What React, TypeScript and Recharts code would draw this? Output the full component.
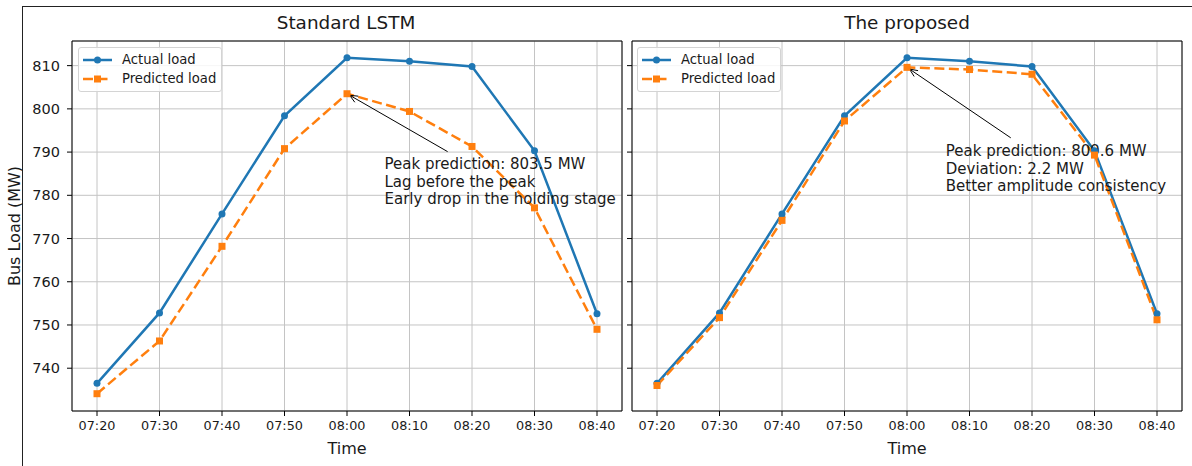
import React from "react";
import {
  LineChart,
  Line,
  XAxis,
  YAxis,
  CartesianGrid,
  ReferenceLine,
  ReferenceDot,
  Legend,
} from "recharts";

const times = ["07:20", "07:30", "07:40", "07:50", "08:00", "08:10", "08:20", "08:30", "08:40"];
const actualLoad = [736.5, 752.8, 775.7, 798.4, 811.8, 811.0, 809.8, 790.3, 752.6];
const lstmPredicted = [734.1, 746.3, 768.2, 790.8, 803.5, 799.4, 791.3, 777.1, 749.0];
const proposedPredicted = [736.0, 751.7, 774.2, 797.2, 809.6, 809.1, 808.0, 789.3, 751.2];
const yTicks = [740, 750, 760, 770, 780, 790, 800, 810];

const lstmNotes = ["Peak prediction: 803.5 MW", "Lag before the peak", "Early drop in the holding stage"];
const proposedNotes = ["Peak prediction: 809.6 MW", "Deviation: 2.2 MW", "Better amplitude consistency"];

const BLUE = "#1f77b4";
const ORANGE = "#ff7f0e";
const FONT = "'DejaVu Sans', sans-serif";
const Y_DOMAIN: [number, number] = [730.1, 815.7];
const X_DOMAIN: [number, number] = [-0.4, 8.4];

const SquareDot = (props: any) => {
  const { cx, cy, index } = props;
  if (cx == null || cy == null) return <g key={index} />;
  return <rect key={index} x={cx - 3.5} y={cy - 3.5} width={7} height={7} fill={ORANGE} />;
};

const Arrow = (props: any) => {
  const { x1, y1, x2, y2 } = props;
  const dx = x2 - x1;
  const dy = y2 - y1;
  const len = Math.sqrt(dx * dx + dy * dy) || 1;
  const ux = dx / len;
  const uy = dy / len;
  const ex = x2 - ux * 3;
  const ey = y2 - uy * 3;
  const hl = 8;
  const hw = 3.5;
  const bx = ex - ux * hl;
  const by = ey - uy * hl;
  return (
    <g>
      <line x1={x1} y1={y1} x2={ex} y2={ey} stroke="#000" strokeWidth={1} />
      <path
        d={`M${bx - uy * hw},${by + ux * hw} L${ex},${ey} L${bx + uy * hw},${by - ux * hw}`}
        fill="none"
        stroke="#000"
        strokeWidth={1}
      />
    </g>
  );
};

const noteShape = (lines: string[]) => (props: any) => {
  const { cx, cy } = props;
  return (
    <text x={cx} y={cy} fontSize={15} fill="#1a1a1a" fontFamily={FONT}>
      {lines.map((l, i) => (
        <tspan key={i} x={cx} dy={i === 0 ? 0 : 17.5}>
          {l}
        </tspan>
      ))}
    </text>
  );
};

const LegendBox = () => (
  <div
    style={{
      border: "1px solid #d4d4d4",
      borderRadius: 3,
      background: "rgba(255,255,255,0.85)",
      padding: "2px 5px 2px 4px",
      fontFamily: FONT,
      fontSize: 13.2,
      color: "#1a1a1a",
      width: "max-content",
    }}
  >
    {[
      { name: "Actual load", color: BLUE, dashed: false },
      { name: "Predicted load", color: ORANGE, dashed: true },
    ].map((e) => (
      <div key={e.name} style={{ display: "flex", alignItems: "center", height: 19.4 }}>
        <svg width={29} height={12} style={{ marginRight: 10 }}>
          <line
            x1={0}
            y1={6}
            x2={29}
            y2={6}
            stroke={e.color}
            strokeWidth={2.5}
            strokeDasharray={e.dashed ? "10 4.5" : undefined}
          />
          {e.dashed ? (
            <rect x={11} y={2.5} width={7} height={7} fill={e.color} />
          ) : (
            <circle cx={14.5} cy={6} r={3.5} fill={e.color} />
          )}
        </svg>
        <span style={{ lineHeight: "14px" }}>{e.name}</span>
      </div>
    ))}
  </div>
);

type PanelProps = {
  predicted: number[];
  notes: string[];
  noteAt: { x: number; y: number };
  tail: { x: number; y: number };
  width: number;
  marginLeft: number;
  marginRight: number;
  yAxisWidth: number;
  showYLabels: boolean;
  legendLeft: number;
};

const Panel = (p: PanelProps) => {
  const data = times.map((t, i) => ({ x: i, actual: actualLoad[i], predicted: p.predicted[i] }));
  return (
    <LineChart
      width={p.width}
      height={466}
      data={data}
      margin={{ top: 41, right: p.marginRight, bottom: 0, left: p.marginLeft }}
    >
      <CartesianGrid stroke="#c4c4c4" strokeWidth={1} />
      <XAxis
        dataKey="x"
        type="number"
        domain={X_DOMAIN}
        ticks={times.map((_, i) => i)}
        interval={0}
        allowDataOverflow
        tickFormatter={(v: number) => times[v] ?? ""}
        height={55}
        tickSize={5}
        tickMargin={5}
        stroke="#000"
        tick={{ fontSize: 12.8, fill: "#1a1a1a", fontFamily: FONT }}
      />
      <YAxis
        type="number"
        domain={Y_DOMAIN}
        ticks={yTicks}
        allowDataOverflow
        width={p.yAxisWidth}
        tickSize={5}
        tickMargin={7}
        interval={0}
        stroke="#000"
        tickFormatter={(v: number) => (p.showYLabels ? String(v) : "")}
        tick={{ fontSize: 14.5, fill: "#1a1a1a", fontFamily: FONT }}
      />
      <ReferenceLine y={Y_DOMAIN[1]} stroke="#000" ifOverflow="visible" />
      <ReferenceLine x={X_DOMAIN[1]} stroke="#000" ifOverflow="visible" />
      <Line
        dataKey="actual"
        type="linear"
        stroke={BLUE}
        strokeWidth={2.5}
        dot={{ r: 3.5, fill: BLUE, stroke: "none" }}
        activeDot={false}
        isAnimationActive={false}
      />
      <Line
        dataKey="predicted"
        type="linear"
        stroke={ORANGE}
        strokeWidth={2.5}
        strokeDasharray="10 4.5"
        dot={SquareDot}
        activeDot={false}
        isAnimationActive={false}
      />
      <ReferenceLine
        segment={[
          { x: p.tail.x, y: p.tail.y },
          { x: 4, y: p.predicted[4] },
        ]}
        ifOverflow="visible"
        shape={Arrow}
      />
      <ReferenceDot
        x={p.noteAt.x}
        y={p.noteAt.y}
        r={0}
        ifOverflow="visible"
        shape={noteShape(p.notes)}
      />
      <Legend
        layout="horizontal"
        align="center"
        verticalAlign="middle"
        content={() => <LegendBox />}
        wrapperStyle={{ left: p.legendLeft, top: 47, width: "auto", height: "auto" }}
      />
    </LineChart>
  );
};

export default function App() {
  const abs = (s: React.CSSProperties): React.CSSProperties => ({ position: "absolute", ...s });
  return (
    <div
      style={{
        position: "absolute",
        left: 0,
        top: 0,
        width: 1192,
        height: 466,
        background: "#fff",
        fontFamily: FONT,
        color: "#1a1a1a",
        overflow: "hidden",
      }}
    >
      <div
        style={abs({
          left: 22,
          top: 6,
          width: 1180,
          height: 470,
          borderTop: "1.3px solid #222",
          borderLeft: "1.3px solid #222",
        })}
      />
      <div style={abs({ left: 0, top: 0 })}>
        <Panel
          predicted={lstmPredicted}
          notes={lstmNotes}
          noteAt={{ x: 4.6, y: 786 }}
          tail={{ x: 5.61, y: 790.1 }}
          width={627}
          marginLeft={22}
          marginRight={5}
          yAxisWidth={50}
          showYLabels
          legendLeft={78}
        />
      </div>
      <div style={abs({ left: 627, top: 0 })}>
        <Panel
          predicted={proposedPredicted}
          notes={proposedNotes}
          noteAt={{ x: 4.62, y: 789 }}
          tail={{ x: 5.66, y: 793.3 }}
          width={565}
          marginLeft={0}
          marginRight={10}
          yAxisWidth={5}
          showYLabels={false}
          legendLeft={10}
        />
      </div>
      <div style={abs({ left: 196, width: 300, top: 12, textAlign: "center", fontSize: 18.4, lineHeight: "22px" })}>
        Standard LSTM
      </div>
      <div style={abs({ left: 757, width: 300, top: 12, textAlign: "center", fontSize: 18.4, lineHeight: "22px" })}>
        The proposed
      </div>
      <div style={abs({ left: 247, width: 200, top: 439, textAlign: "center", fontSize: 16, lineHeight: "20px" })}>
        Time
      </div>
      <div style={abs({ left: 807, width: 200, top: 439, textAlign: "center", fontSize: 16, lineHeight: "20px" })}>
        Time
      </div>
      <div
        style={abs({
          left: 15 - 80,
          top: 226 - 10,
          width: 160,
          textAlign: "center",
          fontSize: 16,
          lineHeight: "20px",
          transform: "rotate(-90deg)",
        })}
      >
        Bus Load (MW)
      </div>
    </div>
  );
}
